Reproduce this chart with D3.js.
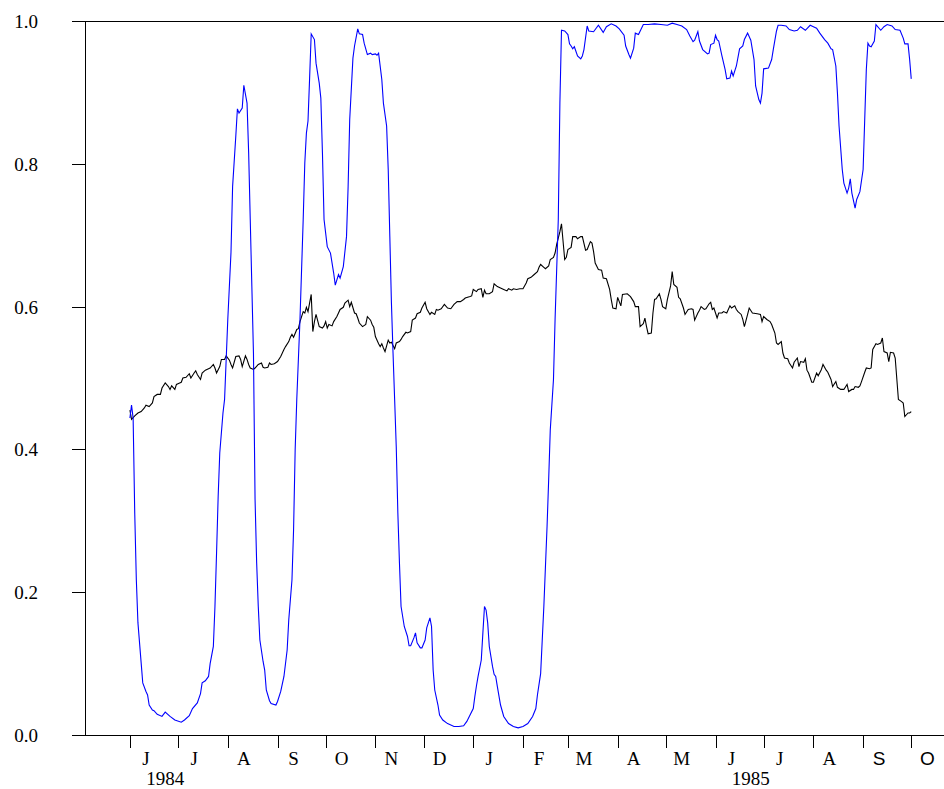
<!DOCTYPE html>
<html>
<head>
<meta charset="utf-8">
<script src="https://cdn.jsdelivr.net/npm/d3@7"></script>
<style>
  body { margin: 0; background: #fff; }
  svg { display: block; }
</style>
</head>
<body>
<svg id="chart"></svg>
<script>
// day numbers count from 1 June 1984
const startDate = Date.UTC(1984, 5, 1);

const monthLabels = ["J","J","A","S","O","N","D","J","F","M","A","M","J","J","A","S","O"];
const yearLabels = ["1984", "1985"];
const yTicks = [0, 0.2, 0.4, 0.6, 0.8, 1.0];

const blueSeries = [[0,0.444],[1,0.462],[2,0.444],[3,0.311],[4,0.217],[5,0.157],[7,0.101],[8,0.073],[10,0.061],[11,0.056],[12,0.042],[14,0.035],[15,0.034],[17,0.029],[20,0.026],[22,0.032],[25,0.026],[28,0.021],[32,0.018],[34,0.021],[37,0.027],[39,0.037],[42,0.045],[44,0.058],[45,0.073],[47,0.076],[49,0.082],[50,0.100],[52,0.124],[53,0.180],[54,0.255],[55,0.334],[56,0.395],[58,0.451],[59,0.470],[61,0.582],[63,0.676],[64,0.768],[66,0.839],[67,0.877],[68,0.871],[70,0.878],[71,0.910],[73,0.885],[74,0.816],[75,0.722],[76,0.628],[77,0.535],[78,0.33],[79,0.241],[80,0.180],[81,0.133],[83,0.103],[84,0.091],[85,0.063],[87,0.048],[88,0.044],[91,0.042],[92,0.047],[94,0.061],[96,0.082],[98,0.119],[99,0.161],[101,0.217],[102,0.287],[103,0.40],[104,0.47],[106,0.582],[108,0.722],[109,0.801],[110,0.843],[111,0.86],[112,0.92],[113,0.982],[115,0.974],[116,0.941],[118,0.913],[119,0.892],[120,0.815],[121,0.722],[123,0.684],[125,0.675],[127,0.647],[128,0.630],[130,0.645],[131,0.640],[133,0.656],[135,0.698],[136,0.768],[137,0.862],[139,0.948],[140,0.965],[142,0.989],[143,0.982],[145,0.981],[146,0.969],[148,0.953],[150,0.955],[151,0.953],[153,0.954],[154,0.952],[155,0.955],[157,0.918],[158,0.885],[160,0.853],[161,0.792],[162,0.698],[163,0.605],[164,0.535],[165,0.47],[166,0.404],[167,0.311],[168,0.241],[169,0.180],[171,0.152],[173,0.138],[174,0.125],[175,0.125],[177,0.136],[178,0.143],[179,0.129],[181,0.122],[182,0.122],[184,0.133],[185,0.150],[187,0.164],[188,0.152],[189,0.091],[190,0.063],[192,0.042],[193,0.028],[195,0.021],[198,0.016],[202,0.012],[205,0.012],[208,0.013],[210,0.019],[212,0.028],[214,0.037],[215,0.054],[216,0.069],[217,0.082],[219,0.105],[220,0.143],[221,0.180],[222,0.175],[223,0.157],[224,0.124],[226,0.096],[227,0.085],[228,0.082],[229,0.068],[231,0.042],[233,0.026],[236,0.016],[239,0.012],[242,0.010],[245,0.012],[248,0.016],[251,0.026],[253,0.037],[254,0.056],[256,0.086],[257,0.133],[258,0.180],[259,0.236],[260,0.292],[261,0.357],[262,0.427],[264,0.498],[265,0.582],[267,0.722],[268,0.885],[269,0.987],[271,0.986],[273,0.981],[274,0.968],[275,0.965],[276,0.961],[277,0.964],[279,0.951],[281,0.947],[282,0.951],[283,0.960],[285,0.993],[286,0.986],[289,0.985],[292,0.994],[295,0.984],[297,0.992],[300,0.996],[303,0.993],[305,0.989],[308,0.980],[309,0.965],[311,0.953],[312,0.948],[314,0.962],[315,0.983],[317,0.981],[320,0.995],[323,0.995],[327,0.996],[331,0.995],[335,0.994],[338,0.997],[341,0.995],[344,0.993],[347,0.988],[349,0.979],[351,0.971],[352,0.973],[354,0.985],[355,0.972],[357,0.960],[360,0.954],[361,0.955],[362,0.967],[364,0.969],[365,0.980],[366,0.974],[367,0.972],[369,0.951],[371,0.932],[372,0.919],[374,0.920],[375,0.930],[376,0.923],[378,0.937],[380,0.961],[382,0.965],[383,0.974],[385,0.983],[387,0.973],[389,0.946],[390,0.909],[392,0.890],[393,0.885],[394,0.899],[395,0.933],[398,0.934],[400,0.946],[401,0.960],[403,0.986],[404,0.994],[406,0.994],[409,0.993],[411,0.988],[414,0.986],[416,0.987],[418,0.992],[421,0.987],[424,0.994],[426,0.992],[428,0.990],[430,0.983],[433,0.974],[435,0.969],[437,0.961],[438,0.960],[440,0.937],[441,0.899],[442,0.853],[444,0.792],[445,0.773],[447,0.759],[448,0.766],[449,0.779],[450,0.759],[452,0.738],[453,0.750],[455,0.761],[457,0.792],[458,0.862],[459,0.932],[460,0.969],[461,0.965],[462,0.964],[464,0.972],[465,0.995],[468,0.987],[470,0.992],[472,0.995],[475,0.993],[477,0.988],[480,0.987],[482,0.976],[483,0.968],[485,0.968],[486,0.946],[487,0.919]];

const blackSeries = [[0,0.455],[1,0.442],[3,0.447],[5,0.451],[7,0.453],[9,0.458],[10,0.462],[12,0.460],[14,0.465],[15,0.474],[17,0.477],[19,0.477],[20,0.486],[22,0.493],[24,0.488],[25,0.484],[26,0.489],[28,0.484],[29,0.491],[31,0.493],[32,0.494],[33,0.500],[35,0.501],[37,0.506],[38,0.500],[40,0.507],[41,0.510],[42,0.505],[44,0.498],[45,0.507],[47,0.511],[49,0.513],[50,0.514],[52,0.519],[53,0.514],[54,0.507],[56,0.516],[57,0.526],[59,0.526],[60,0.531],[62,0.525],[63,0.519],[64,0.514],[66,0.530],[68,0.531],[69,0.526],[70,0.516],[72,0.531],[73,0.526],[74,0.519],[75,0.514],[77,0.512],[78,0.514],[80,0.519],[82,0.521],[83,0.515],[84,0.514],[86,0.515],[87,0.521],[88,0.519],[90,0.520],[92,0.523],[94,0.530],[96,0.540],[97,0.544],[99,0.551],[100,0.557],[101,0.561],[102,0.557],[104,0.568],[105,0.569],[106,0.579],[108,0.593],[109,0.591],[110,0.599],[111,0.593],[113,0.617],[114,0.565],[115,0.579],[116,0.589],[118,0.572],[120,0.570],[121,0.573],[122,0.579],[123,0.570],[124,0.575],[126,0.573],[127,0.579],[129,0.586],[130,0.591],[131,0.596],[133,0.599],[134,0.605],[136,0.609],[137,0.600],[138,0.606],[140,0.591],[141,0.590],[142,0.584],[143,0.577],[145,0.572],[147,0.575],[148,0.586],[150,0.581],[151,0.575],[152,0.571],[153,0.558],[155,0.548],[156,0.544],[157,0.548],[158,0.542],[159,0.537],[160,0.545],[161,0.553],[162,0.549],[163,0.550],[165,0.541],[166,0.549],[168,0.551],[169,0.554],[170,0.558],[172,0.564],[173,0.563],[175,0.565],[176,0.581],[178,0.584],[179,0.590],[181,0.592],[182,0.598],[184,0.606],[185,0.597],[187,0.589],[188,0.592],[190,0.589],[191,0.596],[192,0.595],[194,0.597],[196,0.603],[198,0.598],[200,0.597],[202,0.603],[204,0.607],[206,0.607],[208,0.610],[209,0.612],[212,0.614],[213,0.615],[214,0.624],[216,0.621],[217,0.624],[219,0.625],[220,0.613],[221,0.623],[222,0.618],[224,0.618],[226,0.621],[227,0.632],[229,0.628],[231,0.626],[233,0.624],[235,0.622],[236,0.625],[238,0.623],[239,0.625],[241,0.624],[243,0.625],[245,0.625],[247,0.633],[248,0.639],[250,0.641],[252,0.645],[254,0.649],[255,0.655],[256,0.659],[258,0.655],[259,0.653],[261,0.657],[262,0.666],[264,0.669],[265,0.675],[266,0.687],[268,0.705],[269,0.716],[271,0.666],[272,0.669],[273,0.680],[275,0.683],[276,0.698],[278,0.698],[279,0.695],[281,0.698],[282,0.698],[284,0.679],[285,0.680],[287,0.691],[288,0.689],[289,0.677],[290,0.661],[292,0.652],[294,0.651],[295,0.640],[297,0.639],[299,0.624],[300,0.610],[301,0.598],[303,0.597],[304,0.613],[306,0.601],[307,0.617],[310,0.618],[312,0.614],[314,0.607],[315,0.600],[317,0.600],[318,0.572],[320,0.576],[321,0.584],[322,0.572],[323,0.562],[325,0.563],[326,0.591],[327,0.610],[328,0.611],[330,0.618],[331,0.610],[332,0.600],[334,0.597],[335,0.610],[337,0.629],[338,0.649],[339,0.631],[341,0.627],[342,0.613],[343,0.611],[345,0.598],[346,0.589],[348,0.596],[350,0.597],[351,0.596],[352,0.581],[354,0.591],[355,0.595],[356,0.600],[358,0.596],[359,0.597],[361,0.604],[362,0.606],[363,0.596],[364,0.598],[366,0.584],[367,0.591],[369,0.591],[370,0.593],[372,0.591],[374,0.601],[375,0.598],[377,0.601],[378,0.596],[379,0.593],[381,0.589],[382,0.582],[383,0.572],[385,0.589],[386,0.598],[388,0.591],[391,0.590],[393,0.589],[394,0.579],[395,0.586],[397,0.582],[399,0.579],[400,0.575],[402,0.563],[403,0.549],[404,0.547],[406,0.551],[407,0.535],[408,0.528],[410,0.527],[411,0.521],[413,0.514],[414,0.522],[416,0.528],[417,0.516],[418,0.523],[420,0.522],[421,0.527],[422,0.511],[423,0.507],[425,0.494],[426,0.494],[428,0.507],[429,0.503],[431,0.512],[432,0.519],[434,0.511],[435,0.508],[437,0.498],[438,0.488],[440,0.495],[441,0.487],[443,0.484],[445,0.484],[447,0.491],[448,0.481],[450,0.484],[451,0.484],[452,0.488],[454,0.487],[455,0.489],[456,0.495],[458,0.508],[459,0.514],[461,0.513],[462,0.514],[463,0.540],[465,0.548],[466,0.547],[468,0.549],[469,0.556],[470,0.537],[472,0.535],[473,0.523],[474,0.536],[476,0.535],[477,0.528],[479,0.470],[481,0.467],[482,0.465],[483,0.446],[485,0.451],[486,0.451],[487,0.453]];

const width = 944, height = 789;
const margin = { top: 21, right: 0, bottom: 54, left: 85 };
const innerW = width - margin.left - margin.right;
const innerH = height - margin.top - margin.bottom;
const serif = "'Liberation Serif', 'Times New Roman', Times, serif";
const sans = "'Liberation Sans', Arial, Helvetica, sans-serif";

const dayToDate = d => new Date(startDate + d * 864e5);

const svg = d3.select("#chart").attr("width", width).attr("height", height);
const g = svg.append("g").attr("transform", `translate(${margin.left},${margin.top})`);

const x = d3.scaleUtc()
    .domain([Date.UTC(1984, 4, 4), Date.UTC(1985, 9, 21, 10)])
    .range([0, innerW]);
const y = d3.scaleLinear().domain([0, 1]).range([innerH, 0]);

// y axis
const yAxis = d3.axisLeft(y)
    .tickValues(yTicks)
    .tickFormat(d3.format(".1f"))
    .tickSize(13)
    .tickSizeOuter(0)
    .tickPadding(34);
const yg = g.append("g").call(yAxis);
yg.selectAll("text")
    .attr("font-family", serif)
    .attr("font-size", 19)
    .attr("fill", "#000")
    .attr("dy", "0.34em");

// bottom axis, one tick per month
const months = d3.utcMonth.range(Date.UTC(1984, 5, 1), Date.UTC(1985, 9, 2));
const xAxis = d3.axisBottom(x)
    .tickValues(months)
    .tickSize(13)
    .tickSizeOuter(0)
    .tickFormat("");
g.append("g").attr("transform", `translate(0,${innerH})`).call(xAxis);

g.selectAll(".domain, .tick line").attr("stroke", "#000").attr("stroke-width", 1)
    .attr("shape-rendering", "crispEdges");

// top border
g.append("line")
    .attr("x1", 0).attr("x2", innerW)
    .attr("y1", y(1)).attr("y2", y(1))
    .attr("stroke", "#000").attr("shape-rendering", "crispEdges");

// month letters; the last two are set in a sans face in the original
g.append("g").selectAll("text")
    .data(months)
    .join("text")
    .attr("x", d => x(d3.utcDay.offset(d, 10)))
    .attr("y", innerH + 30)
    .attr("text-anchor", "middle")
    .attr("font-family", (d, i) => i >= 15 ? sans : serif)
    .attr("font-size", 19)
    .attr("fill", "#000")
    .text((d, i) => monthLabels[i]);

g.append("g").selectAll("text")
    .data(yearLabels)
    .join("text")
    .attr("x", d => x(Date.UTC(+d, 5, 23)))
    .attr("y", innerH + 50)
    .attr("text-anchor", "middle")
    .attr("font-family", serif)
    .attr("font-size", 19)
    .attr("fill", "#000")
    .text(d => d);

const line = d3.line()
    .x(d => x(dayToDate(d[0])))
    .y(d => y(d[1]));

g.append("path").datum(blackSeries)
    .attr("d", line)
    .attr("fill", "none")
    .attr("stroke", "#000")
    .attr("stroke-width", 1.1);

g.append("path").datum(blueSeries)
    .attr("d", line)
    .attr("fill", "none")
    .attr("stroke", "#0000ff")
    .attr("stroke-width", 1.1);
</script>
</body>
</html>
